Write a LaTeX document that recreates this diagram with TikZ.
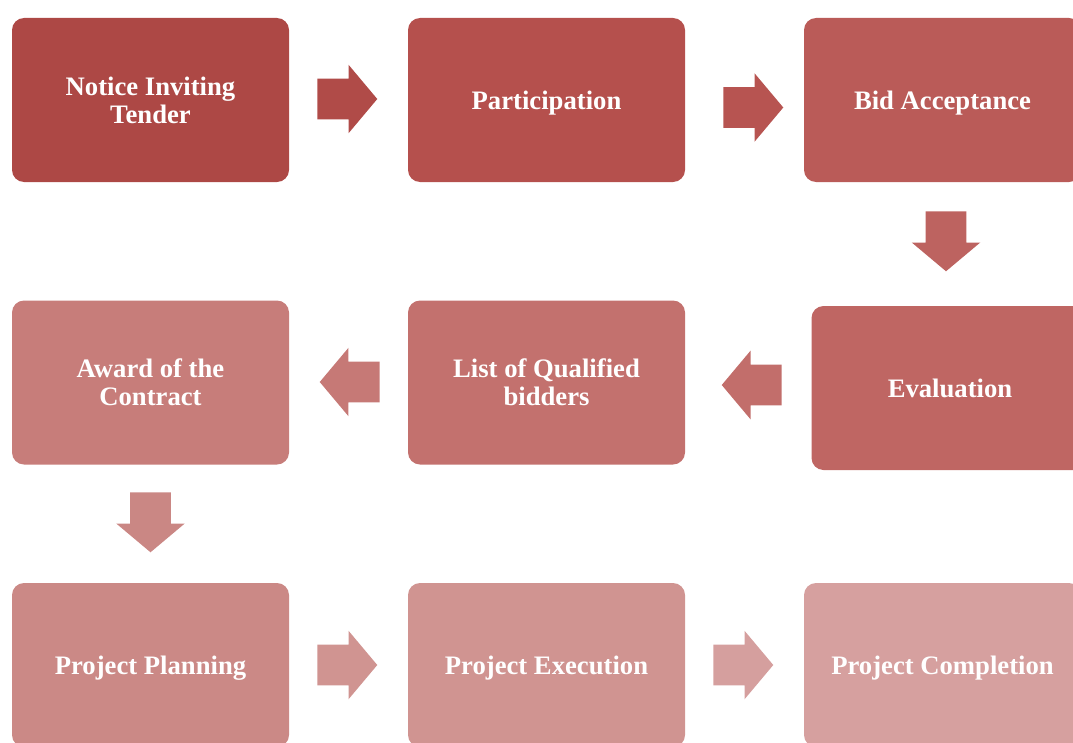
\documentclass[tikz,border=0pt]{standalone}
\usepackage{fontspec}
\setmainfont{Liberation Serif}
\usetikzlibrary{shapes.arrows}
\definecolor{stepA}{HTML}{AD4845}
\definecolor{stepB}{HTML}{B5504D}
\definecolor{stepC}{HTML}{BA5B58}
\definecolor{stepD}{HTML}{BF6663}
\definecolor{stepE}{HTML}{C3716E}
\definecolor{stepF}{HTML}{C77D7A}
\definecolor{stepG}{HTML}{CB8986}
\definecolor{stepH}{HTML}{D09491}
\definecolor{stepI}{HTML}{D6A09F}
\tikzset{
  stepbox/.style={rectangle, rounded corners=9pt, draw=none,
    minimum width=207.75pt, minimum height=123pt, inner sep=0pt,
    align=center, text=white,
    font=\bfseries\fontsize{20}{21}\selectfont},
  oneline/.style={text depth=0pt},
  blockarrow/.style={single arrow, draw=none, inner xsep=0pt, inner ysep=15pt,
    minimum height=45pt, anchor=tail,
    single arrow head extend=10.5pt, single arrow tip angle=100}
}
\begin{document}
\begin{tikzpicture}[x=0.75pt, y=-0.75pt]
  \useasboundingbox (0,0) rectangle (1073,742);
  % steps
  \node[stepbox, fill=stepA] (notice) at (150.5,100) {Notice Inviting\\Tender};
  \node[stepbox, oneline, fill=stepB] (part) at (546.5,100) {Participation};
  \node[stepbox, oneline, fill=stepC] (bid) at (942.5,100) {Bid Acceptance};
  \node[stepbox, oneline, fill=stepD] (eval) at (950,388) {Evaluation};
  \node[stepbox, fill=stepE] (list) at (546.5,382.5) {List of Qualified\\bidders};
  \node[stepbox, fill=stepF] (award) at (150.5,382.5) {Award of the\\Contract};
  \node[stepbox, oneline, fill=stepG] (plan) at (150.5,665) {Project Planning};
  \node[stepbox, oneline, fill=stepH] (exec) at (546.5,665) {Project Execution};
  \node[stepbox, oneline, fill=stepI] (done) at (942.5,665) {Project Completion};
  % arrows between steps
  \node[blockarrow, fill=stepA!60!stepB] (a1) at (317,99) {};
  \node[blockarrow, fill=stepB!60!stepC] (a2) at (723,107.5) {};
  \node[blockarrow, fill=stepC!30!stepD, rotate=-90] (a3) at (946,211) {};
  \node[blockarrow, fill=stepE!70!stepD, rotate=180] (a4) at (782,385) {};
  \node[blockarrow, fill=stepF!70!stepE, rotate=180] (a5) at (380,382) {};
  \node[blockarrow, fill=stepG!80!stepF, rotate=-90] (a6) at (150.5,492) {};
  \node[blockarrow, fill=stepH] (a7) at (317,665) {};
  \node[blockarrow, fill=stepI!90!stepH] (a8) at (713,665) {};
\end{tikzpicture}
\end{document}
